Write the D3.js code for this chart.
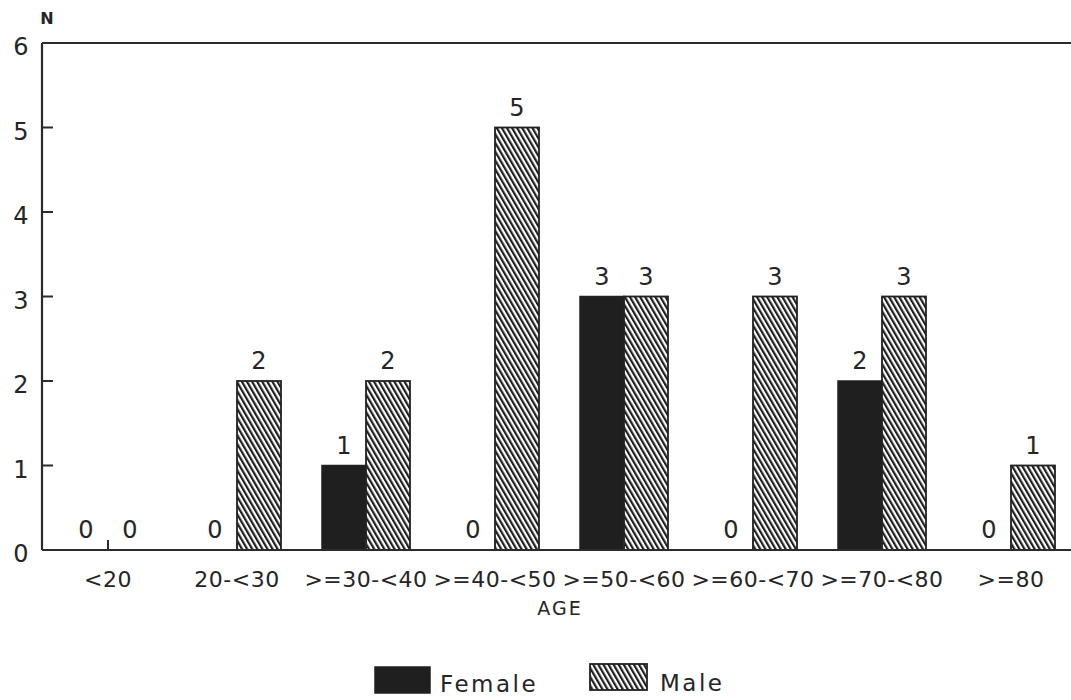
<!DOCTYPE html>
<html>
<head>
<meta charset="utf-8">
<script src="https://cdn.jsdelivr.net/npm/d3@7"></script>
<style>
  html, body { margin: 0; padding: 0; background: #fff; }
  svg { display: block; }
  text { font-family: "DejaVu Sans", sans-serif; fill: #252525; }
</style>
</head>
<body>
<svg id="chart" width="1071" height="700"></svg>
<script>
const categories = ["<20", "20-<30", ">=30-<40", ">=40-<50", ">=50-<60", ">=60-<70", ">=70-<80", ">=80"];
const female = [0, 0, 1, 0, 3, 0, 2, 0];
const male = [0, 2, 2, 5, 3, 3, 3, 1];
const yTicks = [0, 1, 2, 3, 4, 5, 6];
const seriesNames = ["Female", "Male"];

const svg = d3.select("#chart");
const ink = "#2b2b2b";

const defs = svg.append("defs");
const pat = defs.append("pattern")
  .attr("id", "hatch")
  .attr("patternUnits", "userSpaceOnUse")
  .attr("width", 4.4).attr("height", 10)
  .attr("patternTransform", "rotate(-30)");
pat.append("rect").attr("width", 4.4).attr("height", 10).attr("fill", "#fff");
pat.append("rect").attr("x", 0).attr("width", 2.2).attr("height", 10).attr("fill", "#1e1e1e");

const x = d3.scaleBand().domain(categories).range([43.5, 43.5 + 8 * 129]).padding(0);
const y = d3.scaleLinear().domain([0, 6]).range([550, 43]);
const barW = 44;
const cx = c => x(c) + x.bandwidth() / 2;

// frame: left axis, top line, bottom axis
const left = 42, right = 1080;
svg.append("line").attr("x1", left).attr("x2", left).attr("y1", y(6)).attr("y2", y(0))
  .attr("stroke", ink).attr("stroke-width", 2.2);
svg.append("line").attr("x1", left).attr("x2", right).attr("y1", y(6)).attr("y2", y(6))
  .attr("stroke", ink).attr("stroke-width", 2.2);

// y ticks (inward)
const yAxis = svg.append("g");
yTicks.forEach(t => {
  if (t > 0 && t < 6) {
    yAxis.append("line").attr("x1", left).attr("x2", left + 11)
      .attr("y1", y(t)).attr("y2", y(t)).attr("stroke", ink).attr("stroke-width", 2);
  }
  yAxis.append("text").attr("x", 21).attr("y", y(t) + 12)
    .attr("text-anchor", "middle").attr("font-size", 24).text(t);
});
svg.append("text").attr("x", 47).attr("y", 24).attr("text-anchor", "middle")
  .attr("font-size", 16).attr("font-weight", "bold").text("N");

// bars
const g = svg.append("g");
categories.forEach((c, i) => {
  const c0 = cx(c);
  if (female[i] > 0) {
    g.append("rect").attr("x", c0 - barW).attr("y", y(female[i]))
      .attr("width", barW).attr("height", y(0) - y(female[i]))
      .attr("fill", "#1f1f1f").attr("stroke", "#222").attr("stroke-width", 1.5);
  }
  if (male[i] > 0) {
    g.append("rect").attr("x", c0).attr("y", y(male[i]))
      .attr("width", barW).attr("height", y(0) - y(male[i]))
      .attr("fill", "url(#hatch)").attr("stroke", "#222").attr("stroke-width", 1.8);
  }
  g.append("text").attr("x", c0 - barW / 2).attr("y", y(female[i]) - 12)
    .attr("text-anchor", "middle").attr("font-size", 24).text(female[i]);
  g.append("text").attr("x", c0 + barW / 2).attr("y", y(male[i]) - 12)
    .attr("text-anchor", "middle").attr("font-size", 24).text(male[i]);
});

// bottom axis
svg.append("line").attr("x1", left).attr("x2", right).attr("y1", y(0)).attr("y2", y(0))
  .attr("stroke", ink).attr("stroke-width", 2.2);
const xAxis = svg.append("g");
categories.forEach(c => {
  xAxis.append("line").attr("x1", cx(c)).attr("x2", cx(c)).attr("y1", y(0)).attr("y2", y(0) - 10)
    .attr("stroke", ink).attr("stroke-width", 2);
  xAxis.append("text").attr("x", cx(c)).attr("y", 587).attr("text-anchor", "middle")
    .attr("font-size", 22).attr("letter-spacing", 0.5).text(c);
});
svg.append("text").attr("x", 560).attr("y", 615).attr("text-anchor", "middle")
  .attr("font-size", 19).attr("letter-spacing", 2).text("AGE");

// legend
const lg = svg.append("g");
lg.append("rect").attr("x", 375).attr("y", 667).attr("width", 55).attr("height", 26)
  .attr("fill", "#1f1f1f").attr("stroke", "#222").attr("stroke-width", 1.5);
lg.append("text").attr("x", 440).attr("y", 692).attr("font-size", 23).attr("letter-spacing", 2.5).text(seriesNames[0]);
lg.append("rect").attr("x", 590).attr("y", 664).attr("width", 57).attr("height", 26)
  .attr("fill", "url(#hatch)").attr("stroke", "#222").attr("stroke-width", 1.8);
lg.append("text").attr("x", 660).attr("y", 691).attr("font-size", 23).attr("letter-spacing", 2.5).text(seriesNames[1]);
</script>
</body>
</html>
